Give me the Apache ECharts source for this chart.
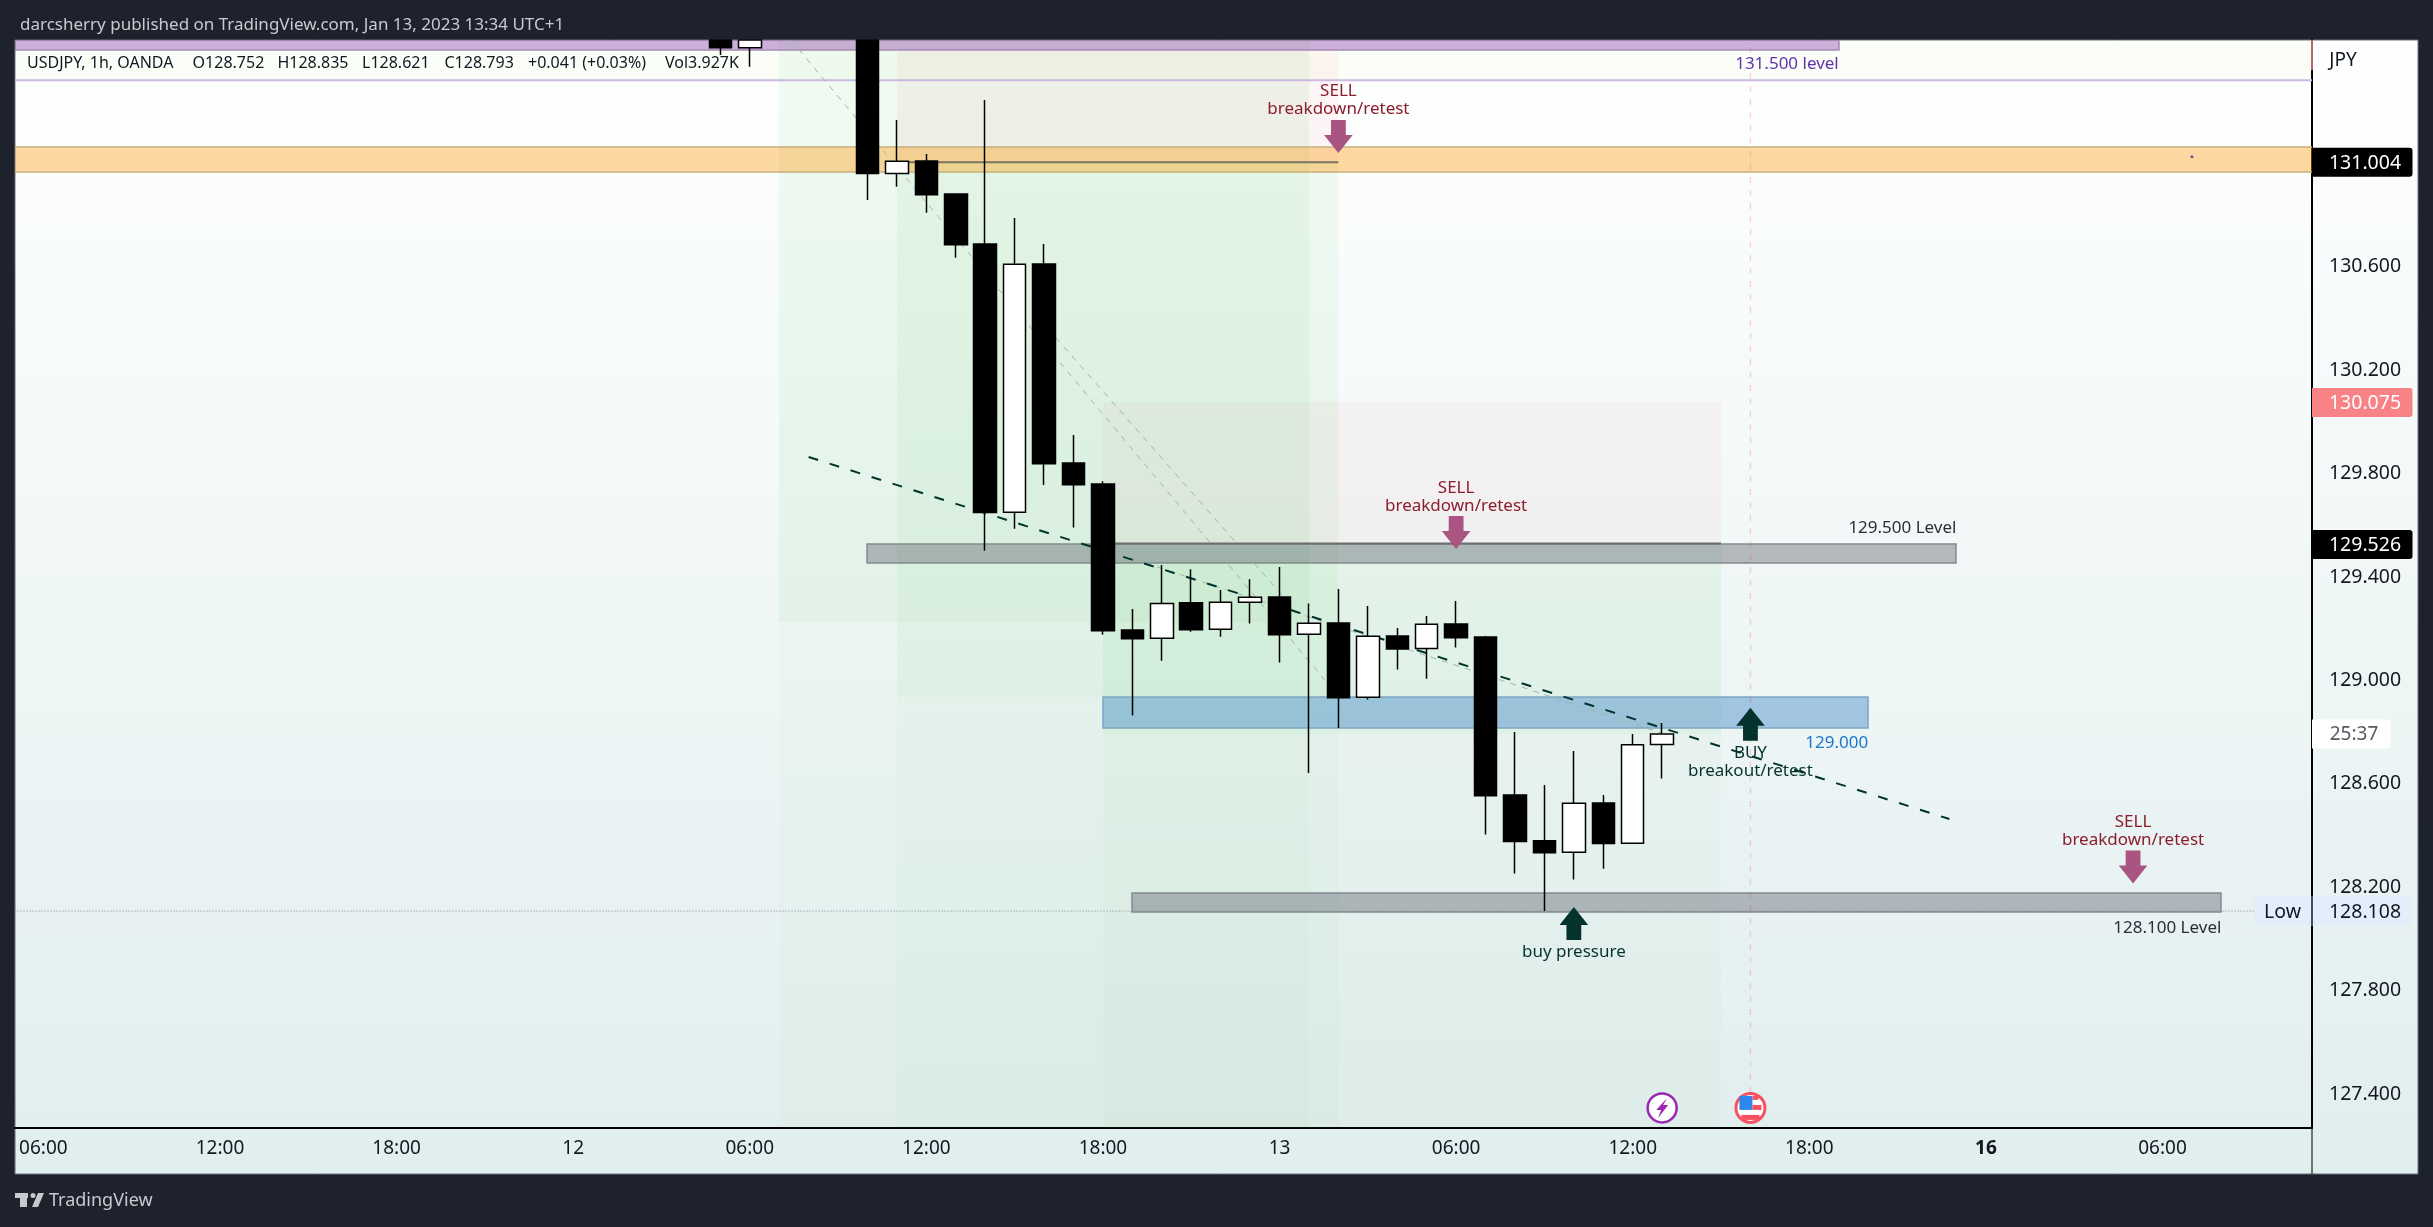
<!DOCTYPE html>
<html>
<head>
<meta charset="utf-8">
<style>html,body{margin:0;padding:0;background:#1e222d}#c{width:2433px;height:1227px}</style>
<script src="https://cdn.jsdelivr.net/npm/echarts@6/dist/echarts.min.js"></script>
</head>
<body>
<div id="c"></div>
<script>
// ---- data (x is the bar number counted from Jan 11 06:00; y is the JPY price) ----
const xTickBars = [0, 6, 12, 18, 24, 30, 36, 42, 48, 54, 60, 66, 72];
const xTickLabels = ['06:00', '12:00', '18:00', '12', '06:00', '12:00', '18:00', '13', '06:00', '12:00', '18:00', '16', '06:00'];
const yTickValues = [127.4, 127.8, 128.2, 128.6, 129.0, 129.4, 129.8, 130.2, 130.6];
// bar, open, close, low, high (prices above the visible range are held at its top edge)
const candles = [
  [23,131.4766,131.447,131.419,131.4766],[24,131.447,131.4766,131.373,131.4766],
  [28,131.4766,130.960,130.858,131.4766],[29,130.960,131.008,130.909,131.167],[30,131.009,130.878,130.809,131.036],
  [31,130.881,130.685,130.635,130.881],[32,130.688,129.649,129.502,131.245],[33,129.650,130.609,129.587,130.788],
  [34,130.610,129.838,129.756,130.688],[35,129.841,129.757,129.591,129.949],[36,129.760,129.192,129.177,129.770],
  [37,129.195,129.161,128.864,129.276],[38,129.163,129.298,129.076,129.446],[39,129.300,129.196,129.188,129.430],
  [40,129.198,129.302,129.169,129.350],[41,129.302,129.322,129.220,129.391],[42,129.323,129.177,129.069,129.439],
  [43,129.179,129.221,128.642,129.298],[44,129.222,128.933,128.816,129.354],[45,128.935,129.171,128.926,129.288],
  [46,129.172,129.122,129.042,129.203],[47,129.124,129.217,129.007,129.249],[48,129.218,129.165,129.127,129.307],
  [49,129.168,128.554,128.404,129.172],[50,128.557,128.377,128.253,128.801],[51,128.380,128.334,128.108,128.596],
  [52,128.336,128.525,128.230,128.727],[53,128.526,128.369,128.272,128.557],[54,128.370,128.751,128.370,128.793],
  [55,128.752,128.793,128.621,128.835]
];
const X_MIN = -0.965, X_MAX = 77.08, Y_MIN = 127.2693, Y_MAX = 131.4766;
// bar from, bar to, price high, price low
const zones = [
  [25,43,131.6,129.226],[25,43,129.226,127.2],
  [29,44,131.436,131.004],[29,44,131.004,128.935],[29,44,128.935,127.2],
  [36,57,130.078,129.526],[36,57,129.526,128.793],[36,57,128.793,127.2],
  [-2,78,131.6,131.321],
  [-2,61,131.6,131.436],[-2,78,131.061,130.964],
  [28,65,129.526,129.452],[36,62,128.935,128.817],[37,74,128.177,128.104]
];
// bar from, price from, bar to, price to
const lines = [
  [-2,131.321,78,131.321],[29,131.004,44,131.004],[36,129.53,57,129.53],
  [-2,128.108,75.1,128.108],[58,131.6,58,127.33],
  [25.4,131.4766,43.62,128.990],[33.87,130.394,42.09,129.330],[35.9,129.512,54.96,128.797],
  [26,129.864,64.76,128.464]
];
// bar, tip price
const sellArrows = [[44,131.040],[48,129.508],[71,128.215]];
const buyArrows = [[58,128.894],[52,128.124]];
// bar, price, text
const notes = [
  [44,131.245,'SELL\nbreakdown/retest'],[48,129.709,'SELL\nbreakdown/retest'],[71,128.418,'SELL\nbreakdown/retest'],
  [58,128.685,'BUY\nbreakout/retest'],[52,127.950,'buy pressure']
];
const levelNotes = [
  [61,131.382,'131.500 level'],[65,129.590,'129.500 Level'],[62,128.759,'129.000'],[74,128.043,'128.100 Level']
];
const priceTags = [[131.004,'131.004'],[130.075,'130.075'],[129.526,'129.526']];
const lowTag = [[128.108,'128.108','Low']];
const countdownTag = [[128.793,'25:37']];
const eventIcons = [[55,127.347],[58,127.347]];
const strayDot = [[73,131.025]];
const headerText = 'darcsherry published on TradingView.com, Jan 13, 2023 13:34 UTC+1';
const legendParts = ['USDJPY, 1h, OANDA','O128.752','H128.835','L128.621','C128.793','+0.041 (+0.03%)','Vol3.927K'];

// ---- styling ----
const FONT = '"Noto Sans", sans-serif';
const G = a => 'rgba(80,205,90,' + a + ')';
const R = a => 'rgba(242,54,69,' + a + ')';
const zoneStyles = [
  {fill:G(.08)},{fill:G(.025)},
  {fill:R(.05)},{fill:G(.07)},{fill:G(.03)},
  {fill:R(.04)},{fill:G(.085)},{fill:G(.03)},
  {fill:'rgba(200,230,120,.05)'},
  {fill:'rgba(126,50,166,.38)',stroke:'#a689b5',lineWidth:1.5},
  {fill:'rgba(255,152,0,.37)',stroke:'#c8ae7d',lineWidth:1.5},
  {fill:'rgba(100,104,116,.44)',stroke:'#858a8e',lineWidth:1.5},
  {fill:'rgba(85,150,205,.5)',stroke:'#7ca6c4',lineWidth:1.5},
  {fill:'rgba(100,104,116,.44)',stroke:'#858a8e',lineWidth:1.5}
];
const lineStyles = [
  {stroke:'#cbb8e3',lineWidth:2},{stroke:'#7a7560',lineWidth:2},{stroke:'#6d6d6d',lineWidth:2},
  {stroke:'#7e8a8c',lineWidth:1,lineDash:[1,2]},{stroke:'rgba(242,54,69,.2)',lineWidth:1.5,lineDash:[6,7]},
  {stroke:'#a3b3ab',lineWidth:1,lineDash:[6,6]},{stroke:'#a3b3ab',lineWidth:1,lineDash:[6,6]},{stroke:'#a3b3ab',lineWidth:1,lineDash:[6,6]},
  {stroke:'#00332c',lineWidth:2,lineDash:[10,12]}
];
const levelColors = ['#5e35b1','#2a2e39','#1976d2','#2a2e39'];
const tagFills = ['#000000','#f98287','#000000'];

const arrowRender = (dir, color) => function (params, api) {
  const p = api.coord([api.value(0), api.value(1)]);
  const s = dir;           // +1 tip points down, -1 tip points up
  return {type:'polygon', shape:{points:[
    [p[0],p[1]],[p[0]-14.3,p[1]-18*s],[p[0]-7.4,p[1]-18*s],[p[0]-7.4,p[1]-33*s],
    [p[0]+7.4,p[1]-33*s],[p[0]+7.4,p[1]-18*s],[p[0]+14.3,p[1]-18*s]]},
    style:{fill:color}};
};
function customSeries(data, encode, z, renderItem, clip) {
  return {type:'custom', data, encode, z, renderItem, clip: clip !== false, silent:true, animation:false};
}
const noteColor = i => i < 3 ? '#8c1d2e' : '#06332e';

const option = {
  animation:false,
  backgroundColor:'#1e222d',
  title:{text:headerText,left:15,top:12,textStyle:{color:'#c8cad0',fontSize:17,fontWeight:'normal',fontFamily:FONT}},
  grid:{left:15,right:121,top:40,bottom:99},
  xAxis:{type:'value',min:X_MIN,max:X_MAX,splitLine:{show:false},
    axisLine:{show:true,onZero:false,lineStyle:{color:'#000',width:2}},
    axisTick:{show:false},
    axisLabel:{customValues:xTickBars,margin:11,color:'#131722',fontSize:19,fontFamily:FONT,
      formatter:v=>{const t=xTickLabels[xTickBars.indexOf(v)];return t==='16'?'{b|16}':t;},
      rich:{b:{fontWeight:'bold',fontSize:19,fontFamily:FONT,color:'#131722'}}}},
  yAxis:{type:'value',position:'right',min:Y_MIN,max:Y_MAX,splitLine:{show:false},
    axisLine:{show:true,onZero:false,lineStyle:{color:'#000',width:2}},
    axisTick:{show:false},
    axisLabel:{customValues:yTickValues,margin:17,color:'#131722',fontSize:19.5,fontFamily:FONT,padding:[3,0,0,0],formatter:v=>v.toFixed(3)}},
  graphic:[
    {type:'rect',z:-10,shape:{x:15,y:40,width:2403,height:1134},
      style:{fill:new echarts.graphic.LinearGradient(0,0,0,1,[{offset:0,color:'#ffffff'},{offset:1,color:'#e1eeee'}]),stroke:'#6b6f78',lineWidth:1}},
    {type:'line',z:10,shape:{x1:2312,y1:1128,x2:2312,y2:1174},style:{stroke:'#000',lineWidth:1}},
    {type:'line',z:10,shape:{x1:2312,y1:40,x2:2312,y2:70},style:{stroke:'#f98287',lineWidth:1.5}},
    {type:'text',z:100,style:{text:'JPY',x:2343,y:60.7,align:'center',verticalAlign:'middle',fill:'#131722',fontSize:19,fontFamily:FONT}},
    // publisher mark
    {type:'rect',z:100,shape:{x:15,y:1193,width:13,height:5},style:{fill:'#c7c9cf'}},
    {type:'rect',z:100,shape:{x:20,y:1193,width:7,height:14},style:{fill:'#c7c9cf'}},
    {type:'circle',z:100,shape:{cx:33,cy:1195.5,r:2.5},style:{fill:'#c7c9cf'}},
    {type:'polygon',z:100,shape:{points:[[38,1193],[44,1193],[38,1207],[32,1207]]},style:{fill:'#c7c9cf'}},
    {type:'text',z:100,style:{text:'TradingView',x:49,y:1200.7,verticalAlign:'middle',fill:'#c7c9cf',fontSize:18,fontFamily:FONT}},
    // symbol line
    ...legendParts.map((t,i)=>({type:'text',z:100,style:{text:t,x:[27,192.6,277.4,362,444.5,528,665][i],y:63.3,verticalAlign:'middle',fill:'#131722',fontSize:16,fontFamily:FONT}}))
  ],
  series:[
    customSeries(zones,{x:[0,1],y:[2,3]},1,(params,api)=>{
      const a=api.coord([api.value(0),api.value(2)]),b=api.coord([api.value(1),api.value(3)]);
      return {type:'rect',shape:{x:Math.round(a[0]),y:Math.round(a[1]),width:Math.round(b[0]-a[0]),height:Math.round(b[1]-a[1])},style:zoneStyles[params.dataIndex]};
    }),
    customSeries(lines,{x:[0,2],y:[1,3]},2,(params,api)=>{
      const a=api.coord([api.value(0),api.value(1)]),b=api.coord([api.value(2),api.value(3)]);
      return {type:'line',shape:{x1:a[0],y1:a[1],x2:b[0],y2:b[1]},style:Object.assign({fill:null},lineStyles[params.dataIndex])};
    }),
    {type:'scatter',data:strayDot,symbolSize:3,z:2,silent:true,itemStyle:{color:'#4a2fb0'}},
    customSeries(sellArrows,{x:0,y:1},3,arrowRender(1,'#aa5481')),
    customSeries(buyArrows,{x:0,y:1},3,arrowRender(-1,'#04332e')),
    {type:'candlestick',data:candles,z:4,silent:true,barWidth:23,
      itemStyle:{color:'#ffffff',color0:'#000000',borderColor:'#000000',borderColor0:'#000000',borderWidth:1.5}},
    customSeries(notes,{x:0,y:1},5,(params,api)=>{
      const p=api.coord([api.value(0),api.value(1)]);
      return {type:'text',style:{text:notes[params.dataIndex][2],x:p[0],y:p[1],align:'center',verticalAlign:'middle',
        fill:noteColor(params.dataIndex),fontSize:17,lineHeight:18,fontFamily:FONT}};
    }),
    customSeries(levelNotes,{x:0,y:1},5,(params,api)=>{
      const p=api.coord([api.value(0),api.value(1)]);
      return {type:'text',style:{text:levelNotes[params.dataIndex][2],x:p[0],y:p[1],align:'right',verticalAlign:'middle',
        fill:levelColors[params.dataIndex],fontSize:17,fontFamily:FONT}};
    }),
    customSeries(eventIcons,{x:0,y:1},6,(params,api)=>{
      const p=api.coord([api.value(0),api.value(1)]),x=p[0],y=p[1];
      if(params.dataIndex===0){
        return {type:'group',children:[
          {type:'circle',shape:{cx:x,cy:y,r:14.5},style:{fill:'#fff',stroke:'#9c27b0',lineWidth:2.5}},
          {type:'polygon',shape:{points:[[x+5,y-10],[x-6,y+2],[x-1,y+2],[x-4,y+10],[x+6,y-3],[x+1,y-3]]},style:{fill:'#9c27b0'}}
        ]};
      }
      return {type:'group',children:[
        {type:'circle',shape:{cx:x,cy:y,r:14.5},style:{fill:'#fff',stroke:'#f7525f',lineWidth:3}},
        {type:'rect',shape:{x:x-11,y:y-12,width:13,height:14},style:{fill:'#2f86ec'}},
        {type:'rect',shape:{x:x+2,y:y-3,width:9,height:5},style:{fill:'#f7525f'}},
        {type:'rect',shape:{x:x+2,y:y-12,width:6,height:4},style:{fill:'#f7525f'}},
        {type:'rect',shape:{x:x-9,y:y+7,width:18,height:5},style:{fill:'#f7525f'}}
      ]};
    }),
    customSeries(priceTags,{y:0},7,(params,api)=>{
      const y=api.coord([X_MAX,api.value(0)]);
      return {type:'group',children:[
        {type:'rect',shape:{x:y[0],y:y[1]-14.5,width:100.5,height:29,r:[0,3,3,0]},style:{fill:tagFills[params.dataIndex]}},
        {type:'text',style:{text:priceTags[params.dataIndex][1],x:y[0]+53,y:y[1]+1,align:'center',verticalAlign:'middle',fill:'#fff',fontSize:19.5,fontFamily:FONT}}
      ]};
    },false),
    customSeries(lowTag,{y:0},7,(params,api)=>{
      const y=api.coord([X_MAX,api.value(0)]);
      return {type:'group',children:[
        {type:'rect',shape:{x:y[0]-58,y:y[1]-14.5,width:158.5,height:29,r:3},style:{fill:'#e3eefb'}},
        {type:'line',shape:{x1:y[0],y1:y[1]-14.5,x2:y[0],y2:y[1]+14.5},style:{stroke:'#131722',lineWidth:1.5}},
        {type:'text',style:{text:lowTag[params.dataIndex][2],x:y[0]-29.5,y:y[1]+1,align:'center',verticalAlign:'middle',fill:'#131722',fontSize:19.5,fontFamily:FONT}},
        {type:'text',style:{text:lowTag[params.dataIndex][1],x:y[0]+53,y:y[1]+1,align:'center',verticalAlign:'middle',fill:'#131722',fontSize:19.5,fontFamily:FONT}}
      ]};
    },false),
    customSeries(countdownTag,{y:0},7,(params,api)=>{
      const y=api.coord([X_MAX,api.value(0)]);
      return {type:'group',children:[
        {type:'rect',shape:{x:y[0],y:y[1]-14.5,width:78.5,height:29,r:[0,3,3,0]},style:{fill:'#fff'}},
        {type:'text',style:{text:countdownTag[params.dataIndex][1],x:y[0]+42,y:y[1]+1,align:'center',verticalAlign:'middle',fill:'#555a63',fontSize:19,fontFamily:FONT}}
      ]};
    },false)
  ]
};
const chart = echarts.init(document.getElementById('c'),null,{renderer:'canvas'});
chart.setOption(option);
</script>
</body>
</html>
